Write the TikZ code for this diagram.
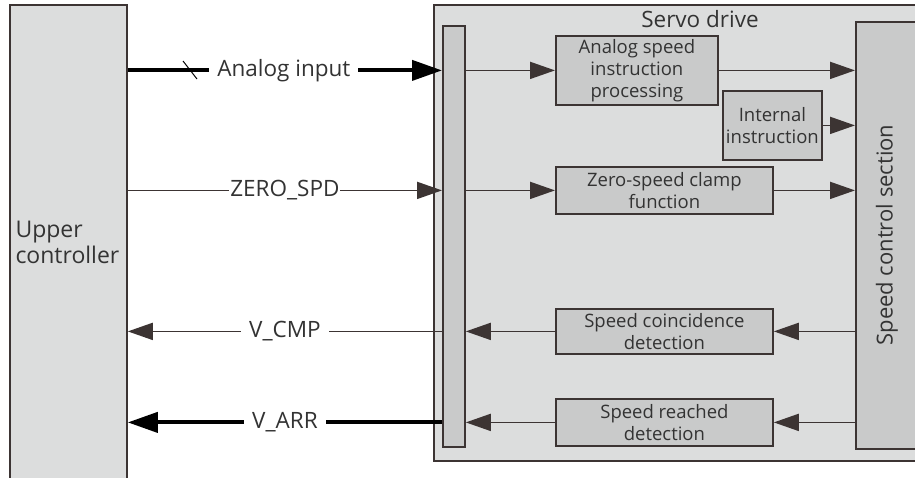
\documentclass[tikz,border=0pt]{standalone}
\usepackage{fontspec}
\setmainfont{Open Sans}
\usetikzlibrary{arrows.meta}

\definecolor{lncol}{HTML}{3C3433}
\definecolor{txtcol}{HTML}{333333}
\definecolor{outerfill}{HTML}{DCDDDD}
\definecolor{innerfill}{HTML}{C9CACA}

\tikzset{
  outerbox/.style={draw=lncol, line width=1.8pt, fill=outerfill, inner sep=0pt, anchor=north west},
  innerbox/.style={draw=lncol, line width=1.8pt, fill=innerfill, inner sep=0pt, anchor=north west,
                   align=center, text=txtcol, font=\fontsize{18.5}{22}\selectfont},
  sig/.style={draw=lncol, line width=1.8pt, -{Triangle[length=25pt,width=17pt]}},
  bigsig/.style={draw=black, line width=4pt, -{Triangle[length=30pt,width=20pt]}},
  lbl/.style={fill=white, inner xsep=8pt, inner ysep=3pt, text=txtcol, font=\fontsize{22.5}{26}\selectfont}
}

\begin{document}
\begin{tikzpicture}[x=1pt,y=-1pt]
	\useasboundingbox (0,0) rectangle (915,477);
	\clip (0,0) rectangle (915,477);
	% host side
	\node[outerbox, minimum width=117pt, minimum height=520pt] (upper) at (9,4) {};
	\node[anchor=west, align=left, text=txtcol, font=\fontsize{23}{26}\selectfont] (upperlbl) at (12,242) {Upper\\controller};
	% drive side
	\node[outerbox, minimum width=500pt, minimum height=456pt] (drive) at (433,4) {};
	\node[text=txtcol, font=\fontsize{22.5}{26}\selectfont] (drivelbl) at (700,19) {Servo drive};
	\node[innerbox, minimum width=22pt, minimum height=421pt] (bus) at (442,25) {};
	\node[innerbox, minimum width=162pt, minimum height=69pt] (asp) at (555,35) {Analog speed\\instruction\\processing};
	\node[innerbox, minimum width=99pt, minimum height=69pt] (intl) at (722,90) {Internal\\instruction};
	\node[innerbox, minimum width=217pt, minimum height=47pt] (zsc) at (555,166) {Zero-speed clamp\\function};
	\node[innerbox, minimum width=217pt, minimum height=45pt] (coin) at (555,308) {Speed coincidence\\detection};
	\node[innerbox, minimum width=217pt, minimum height=47pt] (reach) at (555,398) {Speed reached\\detection};
	\node[innerbox, minimum width=80pt, minimum height=427pt] (spc) at (855,21) {};
	\node[rotate=90, text=txtcol, font=\fontsize{22}{26}\selectfont] (spclbl) at (887,235) {Speed control section};

	% signals to the drive
	\draw[bigsig] (upper.east |- asp.west) -- node[lbl, xshift=-1pt] (ainlbl) {Analog input} (bus.west |- asp.west);
	\coordinate (slash) at (190,70);
	\draw[black, line width=1pt] ([shift={(-7,-9)}]slash) -- ([shift={(7,9)}]slash);
	\draw[sig] (upper.east |- zsc.west) -- node[lbl, inner xsep=1pt] (zlbl) {ZERO\_SPD} (bus.west |- zsc.west);
	\draw[sig] (bus.east |- asp.west) -- (asp.west);
	\draw[sig] (asp.east) -- (spc.west |- asp.east);
	\draw[sig] (intl.east) -- (spc.west |- intl.east);
	\draw[sig] (bus.east |- zsc.west) -- (zsc.west);
	\draw[sig] (zsc.east) -- (spc.west |- zsc.east);

	% signals back to the host
	\draw[sig] (spc.west |- coin.east) -- (coin.east);
	\draw[sig] (coin.west) -- (bus.east |- coin.west);
	\draw[sig] (bus.west |- coin.west) -- node[lbl] (vcmplbl) {V\_CMP} (upper.east |- coin.west);
	\draw[sig] (spc.west |- reach.east) -- (reach.east);
	\draw[sig] (reach.west) -- (bus.east |- reach.west);
	\draw[bigsig] (bus.west |- reach.west) -- node[lbl] (varrlbl) {V\_ARR} (upper.east |- reach.west);
\end{tikzpicture}
\end{document}
